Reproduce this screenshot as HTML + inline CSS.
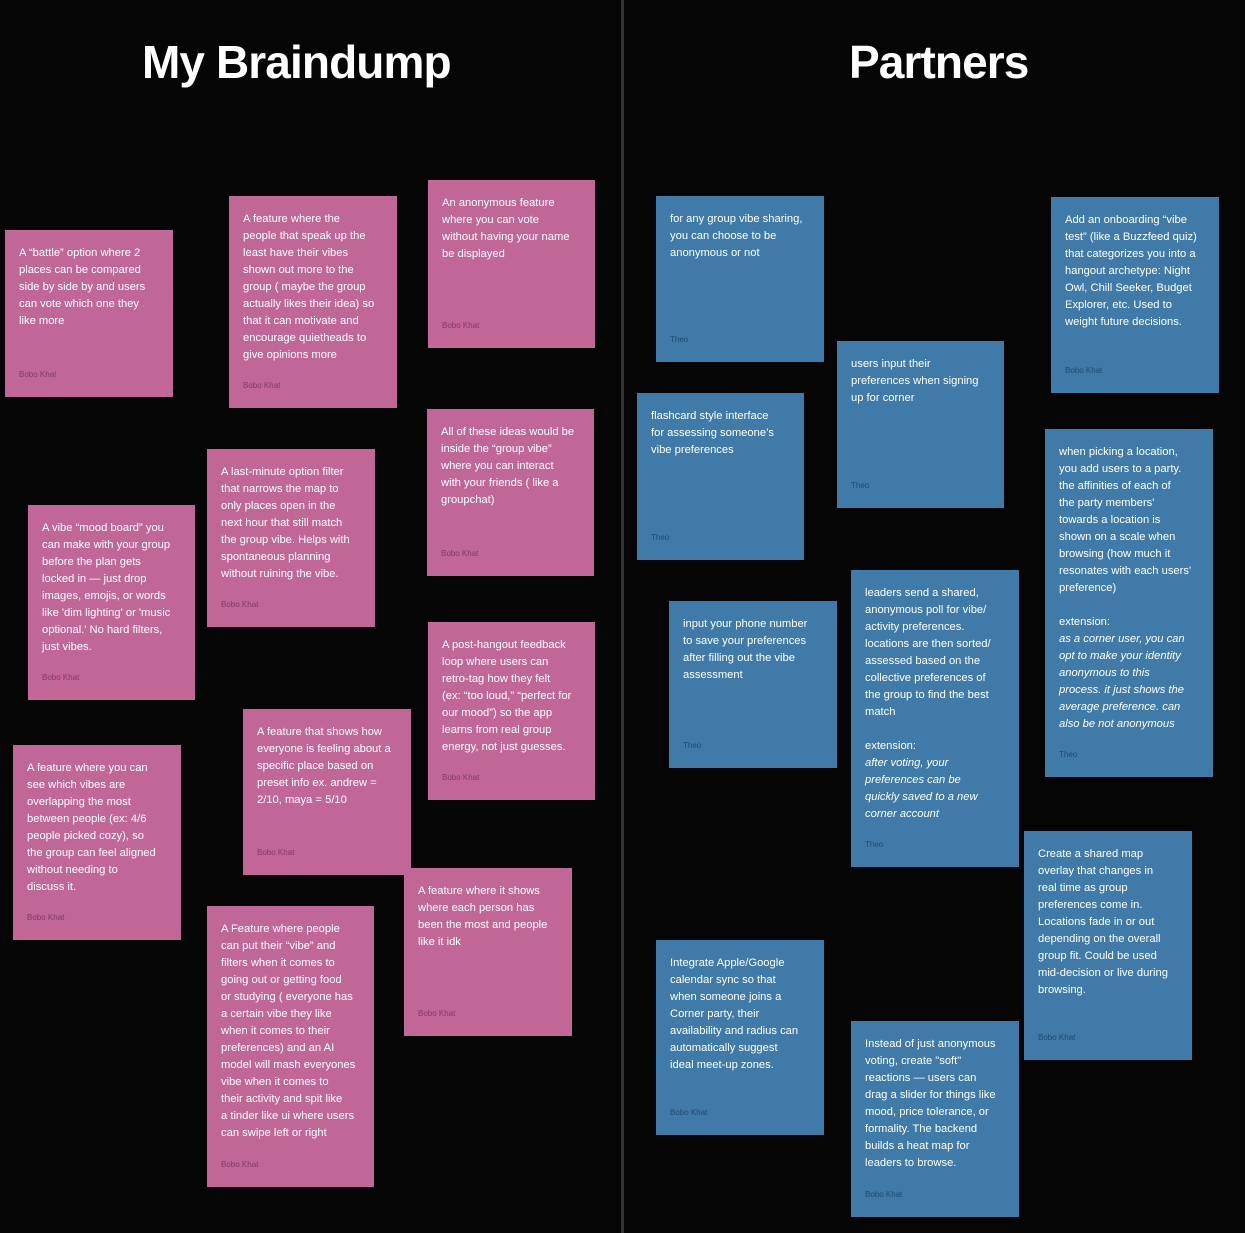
<!DOCTYPE html>
<html><head><meta charset="utf-8"><style>
body{margin:0;width:1245px;height:1233px;background:#050505;position:relative;overflow:hidden;font-family:"Liberation Sans",sans-serif;}
.div{position:absolute;left:621px;top:0;width:3px;height:1233px;background:#333;}
h1{position:absolute;margin:0;top:35px;font-size:46px;font-weight:bold;color:#fff;letter-spacing:-0.9px;}
.c{position:absolute;box-sizing:border-box;padding:15px 0 0 14px;color:#fff;font-size:11.2px;line-height:17px;white-space:nowrap;}
.p{background:#c16797;}
.b{background:#3f7aa8;}
.a{position:absolute;left:14px;bottom:14px;font-size:8px;}
.p .a{color:#7d3c60;}
.b .a{color:#234a6b;}
i{font-style:italic;}
</style></head><body>
<div class="div"></div>
<h1 style="left:142px">My Braindump</h1>
<h1 style="left:849px">Partners</h1>

<div class="c p" style="left:5px;top:230px;width:168px;height:167px">A “battle” option where 2<br>places can be compared<br>side by side by and users<br>can vote which one they<br>like more<div class="a">Bobo Khat</div></div>
<div class="c p" style="left:229px;top:196px;width:168px;height:212px">A feature where the<br>people that speak up the<br>least have their vibes<br>shown out more to the<br>group ( maybe the group<br>actually likes their idea) so<br>that it can motivate and<br>encourage quietheads to<br>give opinions more<div class="a">Bobo Khat</div></div>
<div class="c p" style="left:428px;top:180px;width:167px;height:168px">An anonymous feature<br>where you can vote<br>without having your name<br>be displayed<div class="a">Bobo Khat</div></div>
<div class="c p" style="left:28px;top:505px;width:167px;height:195px">A vibe “mood board” you<br>can make with your group<br>before the plan gets<br>locked in — just drop<br>images, emojis, or words<br>like 'dim lighting' or 'music<br>optional.' No hard filters,<br>just vibes.<div class="a">Bobo Khat</div></div>
<div class="c p" style="left:207px;top:449px;width:168px;height:178px">A last-minute option filter<br>that narrows the map to<br>only places open in the<br>next hour that still match<br>the group vibe. Helps with<br>spontaneous planning<br>without ruining the vibe.<div class="a">Bobo Khat</div></div>
<div class="c p" style="left:427px;top:409px;width:167px;height:167px">All of these ideas would be<br>inside the “group vibe”<br>where you can interact<br>with your friends ( like a<br>groupchat)<div class="a">Bobo Khat</div></div>
<div class="c p" style="left:13px;top:745px;width:168px;height:195px">A feature where you can<br>see which vibes are<br>overlapping the most<br>between people (ex: 4/6<br>people picked cozy), so<br>the group can feel aligned<br>without needing to<br>discuss it.<div class="a">Bobo Khat</div></div>
<div class="c p" style="left:243px;top:709px;width:168px;height:166px">A feature that shows how<br>everyone is feeling about a<br>specific place based on<br>preset info ex. andrew =<br>2/10, maya = 5/10<div class="a">Bobo Khat</div></div>
<div class="c p" style="left:428px;top:622px;width:167px;height:178px">A post-hangout feedback<br>loop where users can<br>retro-tag how they felt<br>(ex: “too loud,” “perfect for<br>our mood”) so the app<br>learns from real group<br>energy, not just guesses.<div class="a">Bobo Khat</div></div>
<div class="c p" style="left:404px;top:868px;width:168px;height:168px">A feature where it shows<br>where each person has<br>been the most and people<br>like it idk<div class="a">Bobo Khat</div></div>
<div class="c p" style="left:207px;top:906px;width:167px;height:281px">A Feature where people<br>can put their “vibe” and<br>filters when it comes to<br>going out or getting food<br>or studying ( everyone has<br>a certain vibe they like<br>when it comes to their<br>preferences) and an AI<br>model will mash everyones<br>vibe when it comes to<br>their activity and spit like<br>a tinder like ui where users<br>can swipe left or right<div class="a">Bobo Khat</div></div>

<div class="c b" style="left:656px;top:196px;width:168px;height:166px">for any group vibe sharing,<br>you can choose to be<br>anonymous or not<div class="a">Theo</div></div>
<div class="c b" style="left:837px;top:341px;width:167px;height:167px">users input their<br>preferences when signing<br>up for corner<div class="a">Theo</div></div>
<div class="c b" style="left:637px;top:393px;width:167px;height:167px">flashcard style interface<br>for assessing someone’s<br>vibe preferences<div class="a">Theo</div></div>
<div class="c b" style="left:1051px;top:197px;width:168px;height:196px">Add an onboarding “vibe<br>test” (like a Buzzfeed quiz)<br>that categorizes you into a<br>hangout archetype: Night<br>Owl, Chill Seeker, Budget<br>Explorer, etc. Used to<br>weight future decisions.<div class="a">Bobo Khat</div></div>
<div class="c b" style="left:1045px;top:429px;width:168px;height:348px">when picking a location,<br>you add users to a party.<br>the affinities of each of<br>the party members'<br>towards a location is<br>shown on a scale when<br>browsing (how much it<br>resonates with each users'<br>preference)<br><br>extension:<br><i>as a corner user, you can<br>opt to make your identity<br>anonymous to this<br>process. it just shows the<br>average preference. can<br>also be not anonymous</i><div class="a">Theo</div></div>
<div class="c b" style="left:669px;top:601px;width:168px;height:167px">input your phone number<br>to save your preferences<br>after filling out the vibe<br>assessment<div class="a">Theo</div></div>
<div class="c b" style="left:851px;top:570px;width:168px;height:297px">leaders send a shared,<br>anonymous poll for vibe/<br>activity preferences.<br>locations are then sorted/<br>assessed based on the<br>collective preferences of<br>the group to find the best<br>match<br><br>extension:<br><i>after voting, your<br>preferences can be<br>quickly saved to a new<br>corner account</i><div class="a">Theo</div></div>
<div class="c b" style="left:1024px;top:831px;width:168px;height:229px">Create a shared map<br>overlay that changes in<br>real time as group<br>preferences come in.<br>Locations fade in or out<br>depending on the overall<br>group fit. Could be used<br>mid-decision or live during<br>browsing.<div class="a">Bobo Khat</div></div>
<div class="c b" style="left:656px;top:940px;width:168px;height:195px">Integrate Apple/Google<br>calendar sync so that<br>when someone joins a<br>Corner party, their<br>availability and radius can<br>automatically suggest<br>ideal meet-up zones.<div class="a">Bobo Khat</div></div>
<div class="c b" style="left:851px;top:1021px;width:168px;height:196px">Instead of just anonymous<br>voting, create "soft"<br>reactions — users can<br>drag a slider for things like<br>mood, price tolerance, or<br>formality. The backend<br>builds a heat map for<br>leaders to browse.<div class="a">Bobo Khat</div></div>
</body></html>
